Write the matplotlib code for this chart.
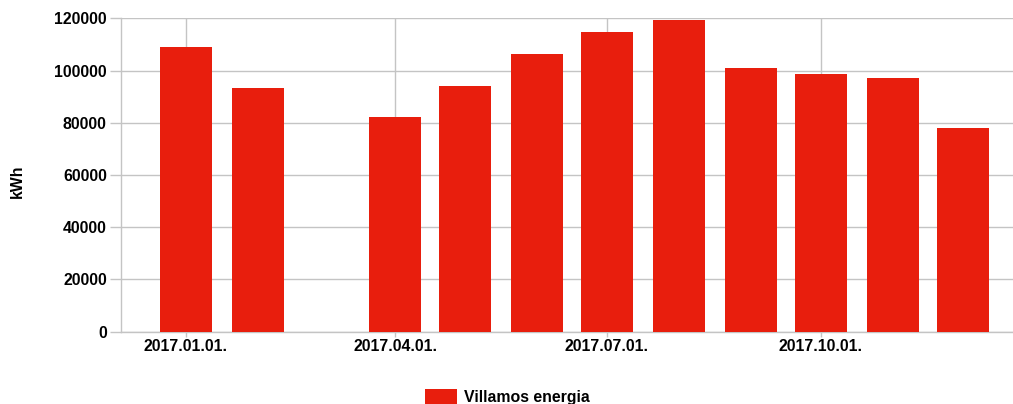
import datetime as dt
import numpy as np
import matplotlib
matplotlib.use("Agg")
import matplotlib.pyplot as plt
import matplotlib.dates as mdates

months = ["2017-01", "2017-02", "2017-03", "2017-04", "2017-05", "2017-06",
          "2017-07", "2017-08", "2017-09", "2017-10", "2017-11", "2017-12"]
energy = [109100, 93300, None, 82200, 93900, 106300,
          114600, 119200, 101100, 98500, 97200, 78000]
series_name = "Villamos energia"
y_label = "kWh"
y_ticks = [0, 20000, 40000, 60000, 80000, 100000, 120000]

plt.rcParams['font.family'] = ['Liberation Sans', 'DejaVu Sans']
plt.rcParams['font.weight'] = 'bold'

dates = [dt.datetime.strptime(m, "%Y-%m") for m in months]
xs = [mdates.date2num(d) for d, v in zip(dates, energy) if v is not None]
ys = [v for v in energy if v is not None]

fig = plt.figure(figsize=(10.13, 4.04), dpi=100)
ax = fig.add_axes([0.1192, 0.1790, 0.8805, 0.7757])

fs = 11.4
grid_c = "#c4c4c4"
bars = ax.bar(xs, ys, width=22.3, color="#e81e0d", zorder=3, label=series_name)

ax.set_ylim(0, 120000)
ax.set_yticks(y_ticks)
x0 = mdates.date2num(dt.datetime(2017, 1, 1))
ax.set_xlim(x0 - 27.9, x0 + 355.5)
ax.xaxis.set_major_locator(mdates.MonthLocator(bymonth=[1, 4, 7, 10]))
ax.xaxis.set_major_formatter(mdates.DateFormatter("%Y.%m.%d."))

ax.grid(True, color=grid_c, linewidth=1, zorder=0)
ax.set_axisbelow(True)
for s in ["top", "right"]:
    ax.spines[s].set_visible(False)
for s in ["left", "bottom"]:
    ax.spines[s].set_color(grid_c)
    ax.spines[s].set_linewidth(1)

ax.tick_params(axis="y", length=8, width=1, color=grid_c, pad=2, labelsize=fs)
ax.tick_params(axis="x", length=3.6, width=1, color=grid_c, pad=2, labelsize=fs)
for lab in ax.get_xticklabels() + ax.get_yticklabels():
    lab.set_fontweight("bold")

ax.set_ylabel(y_label, fontsize=fs, fontweight="bold")
ax.yaxis.set_label_coords(-0.108, 0.48)

fig.legend(handles=[bars], loc="upper left", bbox_to_anchor=(425 / 1013, 1 - 389 / 404),
           frameon=False, handlelength=2.0, handleheight=1.15,
           borderpad=0, borderaxespad=0, handletextpad=0.45,
           prop={"weight": "bold", "size": fs})

fig.savefig("out.png", dpi=100)
